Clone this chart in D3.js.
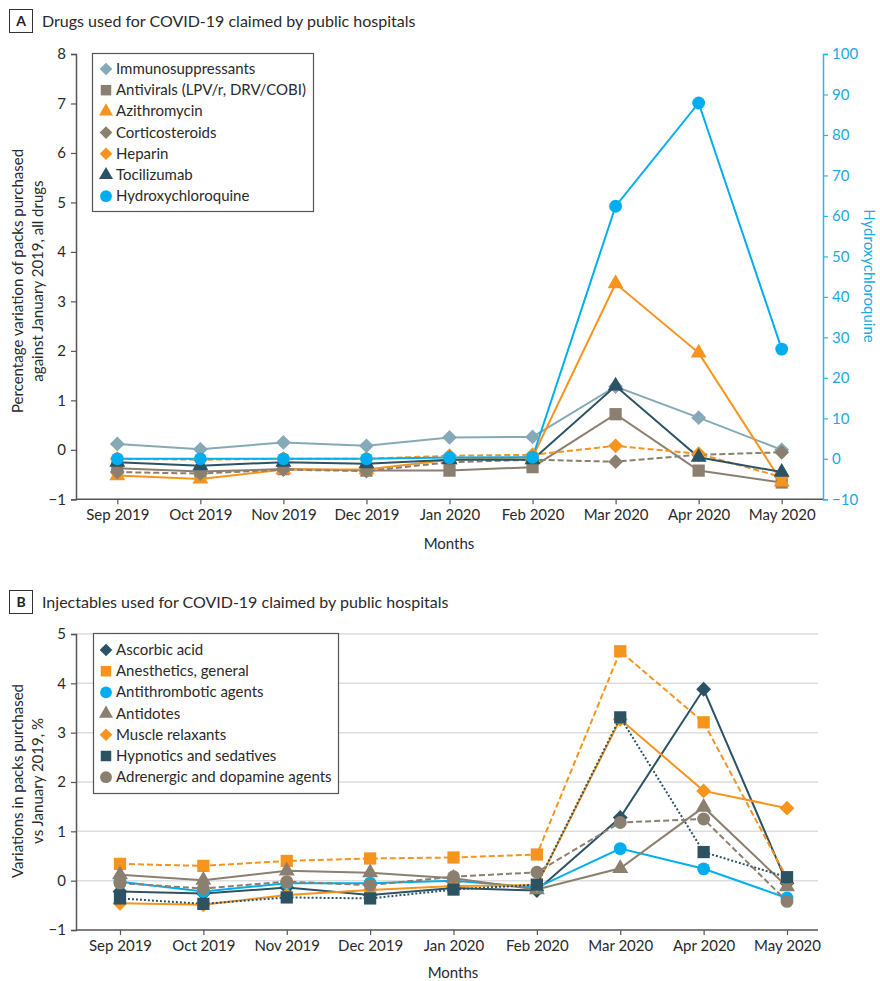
<!DOCTYPE html>
<html>
<head>
<meta charset="utf-8">
<script src="https://cdn.jsdelivr.net/npm/d3@7"></script>
<style>
  body { margin: 0; background: #fff; }
  svg { font-family: Lato, "Open Sans", sans-serif; }
</style>
</head>
<body>
<svg id="chart" width="880" height="981"></svg>
<script>
// months shared by both panels
var months = ["Sep 2019", "Oct 2019", "Nov 2019", "Dec 2019", "Jan 2020", "Feb 2020", "Mar 2020", "Apr 2020", "May 2020"];

// panel A, left axis (%)
var immunosuppressants = [0.12, 0.01, 0.15, 0.08, 0.25, 0.26, 1.28, 0.65, 0.0];
var antivirals = [-0.37, -0.44, -0.39, -0.42, -0.42, -0.35, 0.72, -0.42, -0.66];
var azithromycin = [-0.52, -0.59, -0.40, -0.40, -0.20, -0.15, 3.36, 1.96, -0.65];
var corticosteroids = [-0.45, -0.48, -0.40, -0.43, -0.25, -0.20, -0.24, -0.10, -0.05];
var heparin = [-0.18, -0.20, -0.18, -0.18, -0.12, -0.10, 0.08, -0.08, -0.55];
var tocilizumab = [-0.25, -0.32, -0.25, -0.28, -0.20, -0.20, 1.29, -0.15, -0.45];
// panel A, right axis
var hydroxychloroquine = [0.0, 0.0, 0.0, 0.0, 0.3, 0.4, 62.4, 87.9, 27.1];

// panel B (%)
var ascorbicAcid = [-0.22, -0.26, -0.14, -0.29, -0.15, -0.20, 1.28, 3.88, -0.05];
var anesthetics = [0.34, 0.30, 0.40, 0.45, 0.47, 0.53, 4.65, 3.21, 0.05];
var antithrombotic = [-0.02, -0.22, -0.05, -0.05, 0.0, -0.14, 0.65, 0.24, -0.35];
var antidotes = [0.12, 0.01, 0.20, 0.16, 0.05, -0.18, 0.25, 1.49, -0.12];
var muscleRelaxants = [-0.46, -0.49, -0.29, -0.19, -0.11, -0.09, 3.27, 1.82, 1.47];
var hypnotics = [-0.36, -0.47, -0.34, -0.36, -0.18, -0.08, 3.31, 0.58, 0.07];
var adrenergic = [-0.05, -0.16, -0.02, -0.09, 0.08, 0.17, 1.18, 1.25, -0.42];

var ticksA = [-1, 0, 1, 2, 3, 4, 5, 6, 7, 8];
var ticksRight = [-10, 0, 10, 20, 30, 40, 50, 60, 70, 80, 90, 100];
var ticksB = [-1, 0, 1, 2, 3, 4, 5];

var c = {
  steel: "#86a9b8",
  taupe: "#8b7f70",
  orange: "#f7941d",
  teal: "#2c5364",
  blue: "#00aeef"
};

var seriesA = [
  {name: "Immunosuppressants", values: immunosuppressants, color: c.steel, shape: "diamond", dash: null},
  {name: "Antivirals (LPV/r, DRV/COBI)", values: antivirals, color: c.taupe, shape: "square", dash: null},
  {name: "Azithromycin", values: azithromycin, color: c.orange, shape: "triangle", dash: null},
  {name: "Corticosteroids", values: corticosteroids, color: c.taupe, shape: "diamond", dash: "6,3"},
  {name: "Heparin", values: heparin, color: c.orange, shape: "diamond", dash: "6,3"},
  {name: "Tocilizumab", values: tocilizumab, color: c.teal, shape: "triangle", dash: null},
  {name: "Hydroxychloroquine", values: hydroxychloroquine, color: c.blue, shape: "circle", dash: null, right: true}
];

var seriesB = [
  {name: "Ascorbic acid", values: ascorbicAcid, color: c.teal, shape: "diamond", dash: null},
  {name: "Anesthetics, general", values: anesthetics, color: c.orange, shape: "square", dash: "6,3"},
  {name: "Antithrombotic agents", values: antithrombotic, color: c.blue, shape: "circle", dash: null},
  {name: "Antidotes", values: antidotes, color: c.taupe, shape: "triangle", dash: null},
  {name: "Muscle relaxants", values: muscleRelaxants, color: c.orange, shape: "diamond", dash: null},
  {name: "Hypnotics and sedatives", values: hypnotics, color: c.teal, shape: "square", dash: "2,2"},
  {name: "Adrenergic and dopamine agents", values: adrenergic, color: c.taupe, shape: "circle", dash: "6,3"}
];

var svg = d3.select("#chart");

function symbolPath(shape) {
  if (shape == "diamond") return d3.symbol().type(d3.symbolSquare).size(110)();
  if (shape == "square") return d3.symbol().type(d3.symbolSquare).size(150)();
  if (shape == "triangle") return d3.symbol().type(d3.symbolTriangle).size(110)();
  return d3.symbol().type(d3.symbolCircle).size(130)();
}

function panelTitle(letter, text, top) {
  svg.append("rect").attr("x", 9.5).attr("y", top + 0.5).attr("width", 23).attr("height", 23)
    .attr("fill", "none").attr("stroke", "#333").attr("stroke-width", 1);
  svg.append("text").attr("x", 21).attr("y", top + 17).attr("text-anchor", "middle")
    .attr("font-size", 14).attr("font-weight", "bold").attr("fill", "#222").text(letter);
  svg.append("text").attr("x", 42).attr("y", top + 17.5)
    .attr("font-size", 16).attr("fill", "#2a2a2a").text(text);
}

function styleAxis(g, color) {
  g.select(".domain").attr("stroke", color).attr("stroke-width", 1.5);
  g.selectAll(".tick line").attr("stroke", color).attr("stroke-width", 1.2);
  g.selectAll(".tick text").attr("font-size", 15).attr("fill", color == "#555" ? "#2a2a2a" : color)
    .attr("font-family", "Lato, sans-serif");
}

function drawSeries(list, x, yFor) {
  list.forEach(function(s) {
    var y = yFor(s);
    var line = d3.line().x(function(d, i) { return x(months[i]); }).y(function(d) { return y(d); });
    svg.append("path").datum(s.values).attr("d", line)
      .attr("fill", "none").attr("stroke", s.color).attr("stroke-width", 2)
      .attr("stroke-dasharray", s.dash);
  });
  list.forEach(function(s) {
    var y = yFor(s);
    svg.append("g").selectAll("path").data(s.values).join("path")
      .attr("d", symbolPath(s.shape))
      .attr("transform", function(d, i) {
        return "translate(" + x(months[i]) + "," + y(d) + ")" + (s.shape == "diamond" ? " rotate(45)" : "");
      })
      .attr("fill", s.color);
  });
}

function legend(list, x0, y0, w, h, rowY) {
  svg.append("rect").attr("x", x0 + 0.5).attr("y", y0 + 0.5).attr("width", w).attr("height", h)
    .attr("fill", "#fff").attr("stroke", "#555").attr("stroke-width", 1.2);
  list.forEach(function(s, i) {
    var yy = rowY[0] + i * rowY[1];
    var sym = s.shape == "diamond" ? d3.symbol().type(d3.symbolSquare).size(80)()
      : s.shape == "square" ? d3.symbol().type(d3.symbolSquare).size(110)()
      : s.shape == "triangle" ? d3.symbol().type(d3.symbolTriangle).size(85)()
      : d3.symbol().type(d3.symbolCircle).size(110)();
    svg.append("path").attr("d", sym)
      .attr("transform", "translate(106," + yy + ")" + (s.shape == "diamond" ? " rotate(45)" : ""))
      .attr("fill", s.color);
    svg.append("text").attr("x", 116).attr("y", yy + 5).attr("font-size", 15).attr("fill", "#2a2a2a").text(s.name);
  });
}

// ---------- Panel A ----------
panelTitle("A", "Drugs used for COVID-19 claimed by public hospitals", 9);

var xA = d3.scalePoint().domain(months).range([117.3, 781.7]);
var yA = d3.scaleLinear().domain([-1, 8]).range([499.3, 54]);
var yR = d3.scaleLinear().domain([-10, 100]).range([499.3, 54]);

svg.append("line").attr("x1", 76).attr("x2", 823).attr("y1", 499.3).attr("y2", 499.3)
  .attr("stroke", "#555").attr("stroke-width", 1.5);
var gxA = svg.append("g").attr("transform", "translate(0,499.3)")
  .call(d3.axisBottom(xA).tickSize(5).tickPadding(5));
styleAxis(gxA, "#555");
gxA.select(".domain").remove();

var gyA = svg.append("g").attr("transform", "translate(76,0)")
  .call(d3.axisLeft(yA).tickValues(ticksA).tickFormat(d3.format("d")).tickSize(5).tickPadding(5));
styleAxis(gyA, "#555");

var gyR = svg.append("g").attr("transform", "translate(823,0)")
  .call(d3.axisRight(yR).tickValues(ticksRight).tickFormat(d3.format("d")).tickSize(5).tickPadding(4));
styleAxis(gyR, "#29b6e8");
gyR.selectAll(".tick text").attr("fill", "#1aa9e0");

drawSeries(seriesA, xA, function(s) { return s.right ? yR : yA; });

svg.append("text").attr("x", 449).attr("y", 549).attr("text-anchor", "middle")
  .attr("font-size", 15).attr("fill", "#2a2a2a").text("Months");
svg.append("text").attr("transform", "translate(23,281) rotate(-90)").attr("text-anchor", "middle")
  .attr("font-size", 15).attr("fill", "#2a2a2a").text("Percentage variation of packs purchased");
svg.append("text").attr("transform", "translate(43,281) rotate(-90)").attr("text-anchor", "middle")
  .attr("font-size", 15).attr("fill", "#2a2a2a").text("against January 2019, all drugs");
svg.append("text").attr("transform", "translate(864,276) rotate(90)").attr("text-anchor", "middle")
  .attr("font-size", 15).attr("fill", "#1aa9e0").text("Hydroxychloroquine");

legend(seriesA, 92, 53, 221, 158, [69, 21.2]);

// ---------- Panel B ----------
panelTitle("B", "Injectables used for COVID-19 claimed by public hospitals", 590);

var xB = d3.scalePoint().domain(months).range([120, 787]);
var yB = d3.scaleLinear().domain([-1, 5]).range([930, 634]);

svg.append("g").selectAll("line").data(ticksB.slice(1)).join("line")
  .attr("x1", 76).attr("x2", 818).attr("y1", function(d) { return yB(d); }).attr("y2", function(d) { return yB(d); })
  .attr("stroke", "#ddd").attr("stroke-width", 1.5);

svg.append("line").attr("x1", 76).attr("x2", 818).attr("y1", 930).attr("y2", 930)
  .attr("stroke", "#555").attr("stroke-width", 1.5);
var gxB = svg.append("g").attr("transform", "translate(0,930)")
  .call(d3.axisBottom(xB).tickSize(5).tickPadding(5));
styleAxis(gxB, "#555");
gxB.select(".domain").remove();

var gyB = svg.append("g").attr("transform", "translate(76,0)")
  .call(d3.axisLeft(yB).tickValues(ticksB).tickFormat(d3.format("d")).tickSize(5).tickPadding(5));
styleAxis(gyB, "#555");

drawSeries(seriesB, xB, function() { return yB; });

svg.append("text").attr("x", 453).attr("y", 978).attr("text-anchor", "middle")
  .attr("font-size", 15).attr("fill", "#2a2a2a").text("Months");
svg.append("text").attr("transform", "translate(23,781) rotate(-90)").attr("text-anchor", "middle")
  .attr("font-size", 15).attr("fill", "#2a2a2a").text("Variations in packs purchased");
svg.append("text").attr("transform", "translate(43,781) rotate(-90)").attr("text-anchor", "middle")
  .attr("font-size", 15).attr("fill", "#2a2a2a").text("vs January 2019, %");

legend(seriesB, 93, 633, 245, 160, [650, 21.2]);
</script>
</body>
</html>
